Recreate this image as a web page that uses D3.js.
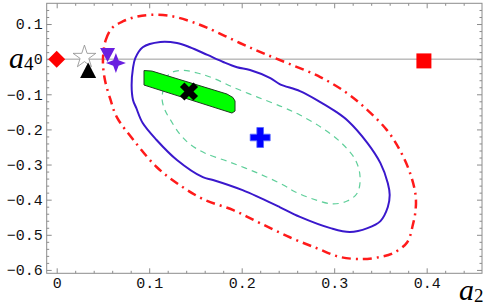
<!DOCTYPE html>
<html>
<head>
<meta charset="utf-8">
<script src="https://cdn.jsdelivr.net/npm/d3@7"></script>
<style>
  body { margin: 0; background: #fff; }
  svg { display: block; }
</style>
</head>
<body>
<div id="chart"></div>
<script>
// data (a2, a4)
var xTicks = [0, 0.1, 0.2, 0.3, 0.4];
var yTicks = [-0.6, -0.5, -0.4, -0.3, -0.2, -0.1, 0, 0.1];

var redContour = [
  [0.050,-0.003],[0.053,0.054],[0.060,0.089],[0.072,0.108],[0.085,0.120],[0.101,0.126],
  [0.123,0.123],[0.144,0.108],[0.163,0.089],[0.198,0.046],[0.223,0.017],[0.252,-0.014],
  [0.285,-0.051],[0.314,-0.097],[0.336,-0.145],[0.357,-0.202],[0.371,-0.259],[0.382,-0.324],
  [0.388,-0.387],[0.388,-0.430],[0.385,-0.472],[0.379,-0.521],[0.364,-0.552],[0.350,-0.563],
  [0.331,-0.569],[0.306,-0.563],[0.281,-0.538],[0.252,-0.507],[0.220,-0.467],[0.191,-0.430],
  [0.158,-0.398],[0.130,-0.353],[0.108,-0.307],[0.083,-0.230],[0.065,-0.165],[0.058,-0.114],
  [0.052,-0.057]
];

var blueContour = [
  [0.081,-0.074],[0.0825,-0.025],[0.085,0.003],[0.093,0.034],[0.112,0.049],[0.130,0.046],
  [0.144,0.034],[0.163,0.012],[0.180,-0.008],[0.195,-0.023],[0.209,-0.031],[0.231,-0.054],
  [0.241,-0.071],[0.263,-0.091],[0.285,-0.122],[0.301,-0.148],[0.315,-0.176],[0.336,-0.239],
  [0.350,-0.296],[0.358,-0.353],[0.360,-0.387],[0.358,-0.421],[0.350,-0.461],[0.336,-0.481],
  [0.317,-0.492],[0.296,-0.481],[0.263,-0.449],[0.241,-0.421],[0.220,-0.395],[0.201,-0.373],
  [0.169,-0.344],[0.158,-0.336],[0.130,-0.287],[0.108,-0.230],[0.093,-0.182],[0.086,-0.139],
  [0.0825,-0.116]
];

var greenContour = [
  [0.114,-0.116],[0.115,-0.088],[0.118,-0.054],[0.125,-0.037],[0.137,-0.032],[0.153,-0.040],
  [0.169,-0.054],[0.190,-0.079],[0.217,-0.108],[0.244,-0.136],[0.263,-0.159],[0.287,-0.196],
  [0.308,-0.239],[0.323,-0.287],[0.328,-0.336],[0.325,-0.381],[0.314,-0.404],[0.298,-0.412],
  [0.277,-0.398],[0.258,-0.378],[0.245,-0.358],[0.217,-0.324],[0.187,-0.293],[0.160,-0.267],
  [0.144,-0.242],[0.133,-0.213],[0.123,-0.173],[0.117,-0.145]
];

var greenRegion = [
  [0.0944,-0.0324],[0.1030,-0.0339],[0.1841,-0.0993],[0.1906,-0.1093],[0.1928,-0.1192],
  [0.1928,-0.1477],[0.1895,-0.1534],[0.0944,-0.0737]
];

var pointNames = ['diamond', 'star', 'triangle', 'triDown', 'star4', 'times', 'cross', 'square'];
var pointA2 = [0.000, 0.030, 0.034, 0.055, 0.064, 0.143, 0.220, 0.397];
var pointA4 = [0.000, 0.006, -0.032, 0.012, -0.011, -0.092, -0.223, -0.005];

// layout
var W = 485, H = 303;
var pL = 46.7, pR = 482, pT = 3.3, pB = 273.3;

var svg = d3.select('#chart').append('svg')
  .attr('width', W)
  .attr('height', H);

var x = d3.scaleLinear().domain([-0.0108, 0.4598]).range([pL, pR]);
var y = d3.scaleLinear().domain([-0.6096, 0.159]).range([pB, pT]);

var frameColor = '#8c8c8c';

// minor ticks
var xMinor = d3.range(0, 0.46, 0.02).filter(function(v){
  return Math.abs(v * 10 - Math.round(v * 10)) > 1e-6;
});
var yMinor = d3.range(-0.6, 0.16, 0.02).filter(function(v){
  return Math.abs(v * 10 - Math.round(v * 10)) > 1e-6;
});

function styleAxis(g){
  g.select('.domain').remove();
  g.selectAll('line').attr('stroke', frameColor);
  g.selectAll('text')
    .attr('font-family', '"Liberation Mono", "DejaVu Sans Mono", monospace')
    .attr('font-size', 15)
    .attr('fill', '#111');
}

var fmt = function(d){
  if (d === 0) return '0';
  return d3.format('.1f')(d).replace('-', '\u2212');
};

// bottom
svg.append('g').attr('transform', 'translate(0,' + pB + ')')
  .call(d3.axisBottom(x).tickValues(xTicks).tickFormat(fmt).tickSizeInner(-5).tickSizeOuter(0).tickPadding(4))
  .call(styleAxis);
svg.append('g').attr('transform', 'translate(0,' + pB + ')')
  .call(d3.axisBottom(x).tickValues(xMinor).tickFormat('').tickSizeInner(-2.5).tickSizeOuter(0))
  .call(styleAxis);
// top
svg.append('g').attr('transform', 'translate(0,' + pT + ')')
  .call(d3.axisTop(x).tickValues(xTicks).tickFormat('').tickSizeInner(-5).tickSizeOuter(0))
  .call(styleAxis);
svg.append('g').attr('transform', 'translate(0,' + pT + ')')
  .call(d3.axisTop(x).tickValues(xMinor).tickFormat('').tickSizeInner(-2.5).tickSizeOuter(0))
  .call(styleAxis);
// left
svg.append('g').attr('transform', 'translate(' + pL + ',0)')
  .call(d3.axisLeft(y).tickValues(yTicks).tickFormat(fmt).tickSizeInner(-5).tickSizeOuter(0).tickPadding(4))
  .call(styleAxis);
svg.append('g').attr('transform', 'translate(' + pL + ',0)')
  .call(d3.axisLeft(y).tickValues(yMinor).tickFormat('').tickSizeInner(-2.5).tickSizeOuter(0))
  .call(styleAxis);
// right
svg.append('g').attr('transform', 'translate(' + pR + ',0)')
  .call(d3.axisRight(y).tickValues(yTicks).tickFormat('').tickSizeInner(-5).tickSizeOuter(0))
  .call(styleAxis);
svg.append('g').attr('transform', 'translate(' + pR + ',0)')
  .call(d3.axisRight(y).tickValues(yMinor).tickFormat('').tickSizeInner(-2.5).tickSizeOuter(0))
  .call(styleAxis);

// frame
svg.append('rect')
  .attr('x', pL).attr('y', pT)
  .attr('width', pR - pL).attr('height', pB - pT)
  .attr('fill', 'none')
  .attr('stroke', frameColor)
  .attr('stroke-width', 1);

// a4 = 0 line
svg.append('line')
  .attr('x1', pL).attr('x2', pR)
  .attr('y1', y(0)).attr('y2', y(0))
  .attr('stroke', '#9a9a9a')
  .attr('stroke-width', 1);

var plot = svg.append('g');

var contourLine = d3.line()
  .x(function(d){ return x(d[0]); })
  .y(function(d){ return y(d[1]); })
  .curve(d3.curveCatmullRomClosed.alpha(0.5));

plot.append('path')
  .attr('d', contourLine(greenContour))
  .attr('fill', 'none')
  .attr('stroke', '#5fcf9a')
  .attr('stroke-width', 1.2)
  .attr('stroke-dasharray', '6,5');

plot.append('path')
  .attr('d', contourLine(blueContour))
  .attr('fill', 'none')
  .attr('stroke', '#3a18cc')
  .attr('stroke-width', 2);

plot.append('path')
  .attr('d', contourLine(redContour))
  .attr('fill', 'none')
  .attr('stroke', '#ff1a1a')
  .attr('stroke-width', 2.5)
  .attr('stroke-dasharray', '9,5,2,5');

var regionLine = d3.line()
  .x(function(d){ return x(d[0]); })
  .y(function(d){ return y(d[1]); });

plot.append('path')
  .attr('d', regionLine(greenRegion) + 'Z')
  .attr('fill', '#00ff00')
  .attr('stroke', '#1f3a1f')
  .attr('stroke-width', 1);

// marker shapes (pixel paths around the point)
function poly(pts){
  return 'M' + pts.map(function(p){ return p[0] + ',' + p[1]; }).join('L') + 'Z';
}
function star4(r, ri){
  var pts = [];
  for (var i = 0; i < 8; i++){
    var a = -Math.PI / 2 + i * Math.PI / 4;
    var rr = i % 2 ? ri : r;
    pts.push([rr * Math.cos(a), rr * Math.sin(a)]);
  }
  return poly(pts);
}

var markerStyle = {
  diamond:  { d: poly([[0,-8.5],[8.5,0],[0,8.5],[-8.5,0]]), fill: '#ff0000', stroke: 'none' },
  star:     { d: d3.symbol().type(d3.symbolStar).size(160)(), fill: '#fff', stroke: '#8a8a8a' },
  triangle: { d: poly([[0,-8],[8,7.5],[-8,7.5]]), fill: '#000', stroke: 'none' },
  triDown:  { d: poly([[-7.5,-7],[7.5,-7],[0,7]]), fill: '#6a1fe0', stroke: 'none' },
  star4:    { d: star4(10, 3.8), fill: '#6a1fe0', stroke: 'none' },
  times:    { d: d3.symbol().type(d3.symbolCross).size(205)(), fill: '#000', stroke: 'none', rotate: 45 },
  cross:    { d: d3.symbol().type(d3.symbolCross).size(222)(), fill: '#0000ff', stroke: '#5566ff' },
  square:   { d: d3.symbol().type(d3.symbolSquare).size(225)(), fill: '#ff0000', stroke: 'none' }
};

plot.selectAll('path.marker')
  .data(pointNames)
  .enter().append('path')
  .attr('class', 'marker')
  .attr('transform', function(d, i){
    var s = markerStyle[d];
    return 'translate(' + x(pointA2[i]) + ',' + y(pointA4[i]) + ')' + (s.rotate ? ' rotate(' + s.rotate + ')' : '');
  })
  .attr('d', function(d){ return markerStyle[d].d; })
  .attr('fill', function(d){ return markerStyle[d].fill; })
  .attr('stroke', function(d){ return markerStyle[d].stroke; })
  .attr('stroke-width', 0.8);

// axis labels
function axisLabel(px, py, sub){
  var t = svg.append('text')
    .attr('x', px).attr('y', py)
    .attr('font-family', '"Liberation Serif", "DejaVu Serif", serif')
    .attr('fill', '#000');
  t.append('tspan').attr('font-style', 'italic').attr('font-size', 30).text('a');
  t.append('tspan').attr('font-size', 19).attr('dy', 2).text(sub);
}
axisLabel(9, 68, '4');
axisLabel(459, 300, '2');
</script>
</body>
</html>
